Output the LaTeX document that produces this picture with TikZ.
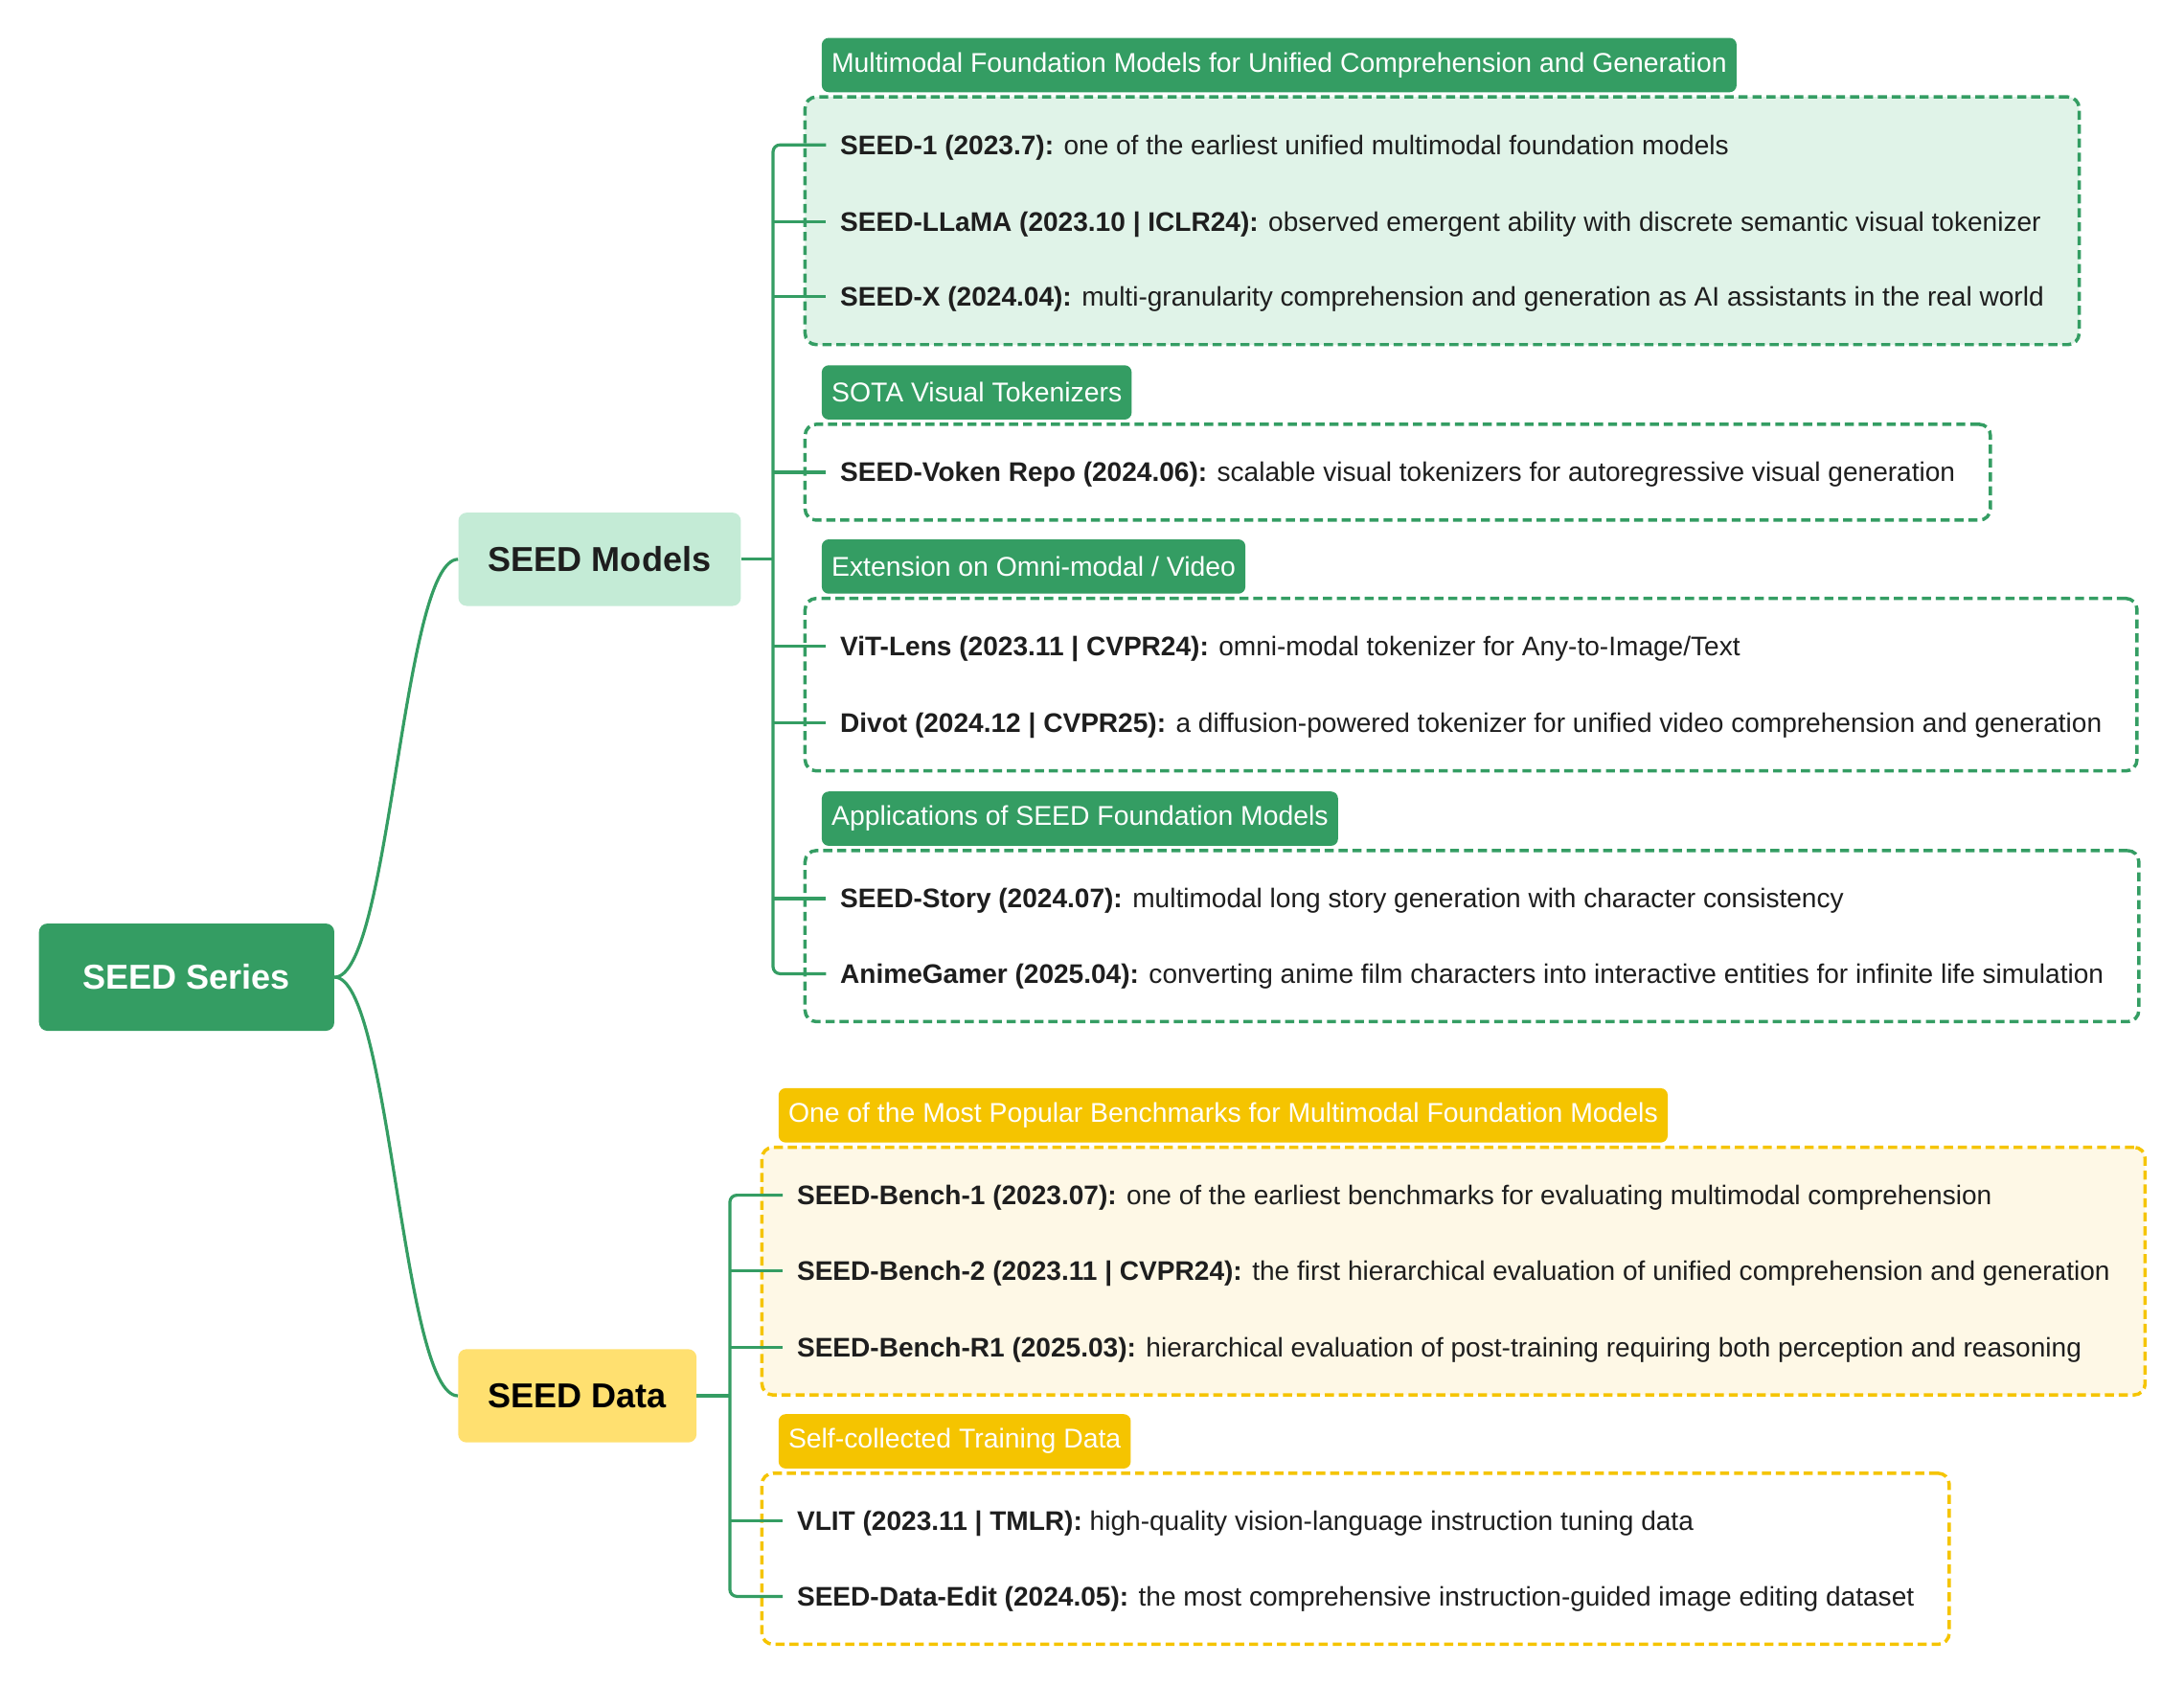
\documentclass[tikz,border=0pt]{standalone}
\usepackage{fontspec}
\setmainfont{Liberation Sans}
\usetikzlibrary{positioning,fit,backgrounds}
\definecolor{sgreen}{RGB}{52,157,99}
\definecolor{mintgreen}{RGB}{196,235,214}
\definecolor{palegreen}{RGB}{224,243,232}
\definecolor{syellow}{RGB}{245,196,0}
\definecolor{sunyellow}{RGB}{255,224,112}
\definecolor{paleyellow}{RGB}{254,248,230}
\definecolor{ink}{RGB}{30,30,30}
\begin{document}
\begin{tikzpicture}[x=1pt, y=-1pt,
    branch/.style={draw=sgreen, line width=2.2pt},
    topic/.style={rounded corners=6pt, font=\fontsize{24.8}{28}\selectfont\bfseries, minimum height=67pt, inner xsep=21.5pt},
    tagbox/.style={fill=#1, rounded corners=5pt, text=white, font=\fontsize{19.5}{22}\selectfont, minimum height=39pt, inner xsep=7pt, anchor=south west},
    entry/.style={anchor=west, inner xsep=10pt, inner ysep=2pt, text height=17pt, text depth=3.4pt, font=\fontsize{19.3}{22}\selectfont, text=ink},
    groupbox/.style={draw=#1, dash pattern=on 6.5pt off 3.5pt, line width=2.4pt, rounded corners=8pt, inner xsep=15pt, inner ysep=22pt},
]
    \useasboundingbox (0,0) rectangle (1568,1211);

    \node[topic, fill=sgreen, text=white, minimum width=212pt, minimum height=77pt] (root) at (134,701.5) {SEED Series};
    \node[topic, fill=mintgreen, text=ink] (models) at (430.5,401.5) {SEED Models};
    \node[topic, fill=sunyellow, text=black] (data) at (414.5,1002) {SEED Data};

    \node[entry] (s1) at (593,104) {\textbf{SEED-1 (2023.7):} one of the earliest unified multimodal foundation models};
    \node[entry] (llama) at (593,159) {\textbf{SEED-LLaMA (2023.10 | ICLR24):} observed emergent ability with discrete semantic visual tokenizer};
    \node[entry] (sx) at (593,213) {\textbf{SEED-X (2024.04):} multi-granularity comprehension and generation as AI assistants in the real world};
    \node[entry] (voken) at (593,339) {\textbf{SEED-Voken Repo (2024.06):} scalable visual tokenizers for autoregressive visual generation};
    \node[entry] (vit) at (593,464) {\textbf{ViT-Lens (2023.11 | CVPR24):} omni-modal tokenizer for Any-to-Image/Text};
    \node[entry] (divot) at (593,519) {\textbf{Divot (2024.12 | CVPR25):} a diffusion-powered tokenizer for unified video comprehension and generation};
    \node[entry] (story) at (593,645) {\textbf{SEED-Story (2024.07):} multimodal long story generation with character consistency};
    \node[entry] (anime) at (593,699) {\textbf{AnimeGamer (2025.04):} converting anime film characters into interactive entities for infinite life simulation};

    \node[entry] (bench1) at (562,858) {\textbf{SEED-Bench-1 (2023.07):} one of the earliest benchmarks for evaluating multimodal comprehension};
    \node[entry] (bench2) at (562,912) {\textbf{SEED-Bench-2 (2023.11 | CVPR24):} the first hierarchical evaluation of unified comprehension and generation};
    \node[entry] (benchr1) at (562,967) {\textbf{SEED-Bench-R1 (2025.03):} hierarchical evaluation of post-training requiring both perception and reasoning};
    \node[entry] (vlit) at (562,1092) {\textbf{VLIT (2023.11 | TMLR):} high-quality vision-language instruction tuning data};
    \node[entry] (edit) at (562,1146) {\textbf{SEED-Data-Edit (2024.05):} the most comprehensive instruction-guided image editing dataset};

    \begin{scope}[on background layer]
        \node[groupbox=sgreen, fill=palegreen, fit=(s1)(llama)(sx)] (g1) {};
        \node[groupbox=sgreen, fill=white, fit=(voken)] (g2) {};
        \node[groupbox=sgreen, fill=white, fit=(vit)(divot)] (g3) {};
        \node[groupbox=sgreen, fill=white, fit=(story)(anime)] (g4) {};
        \node[groupbox=syellow, fill=paleyellow, fit=(bench1)(bench2)(benchr1)] (g5) {};
        \node[groupbox=syellow, fill=white, fit=(vlit)(edit)] (g6) {};
    \end{scope}

    \node[tagbox=sgreen] (t1) at ([shift={(13,-2)}]g1.north west) {Multimodal Foundation Models for Unified Comprehension and Generation};
    \node[tagbox=sgreen] (t2) at ([shift={(13,-2)}]g2.north west) {SOTA Visual Tokenizers};
    \node[tagbox=sgreen] (t3) at ([shift={(13,-2)}]g3.north west) {Extension on Omni-modal / Video};
    \node[tagbox=sgreen] (t4) at ([shift={(13,-2)}]g4.north west) {Applications of SEED Foundation Models};
    \node[tagbox=syellow] (t5) at ([shift={(13,-2)}]g5.north west) {One of the Most Popular Benchmarks for Multimodal Foundation Models};
    \node[tagbox=syellow] (t6) at ([shift={(13,-2)}]g6.north west) {Self-collected Training Data};

    \draw[branch] (root.east) .. controls +(40,0) and +(-40,0) .. (models.west);
    \draw[branch] (root.east) .. controls +(40,0) and +(-40,0) .. (data.west);

    \coordinate (mt) at (555,401.5);
    \draw[branch] (models.east) -- (mt);
    \draw[branch, rounded corners=5pt] (s1.west) -| (mt) |- (anime.west);
    \foreach \n in {llama,sx,voken,vit,divot,story}
        \draw[branch] (mt |- \n.west) -- (\n.west);

    \coordinate (dt) at (524,1002);
    \draw[branch] (data.east) -- (dt);
    \draw[branch, rounded corners=5pt] (bench1.west) -| (dt) |- (edit.west);
    \foreach \n in {bench2,benchr1,vlit}
        \draw[branch] (dt |- \n.west) -- (\n.west);
\end{tikzpicture}
\end{document}
